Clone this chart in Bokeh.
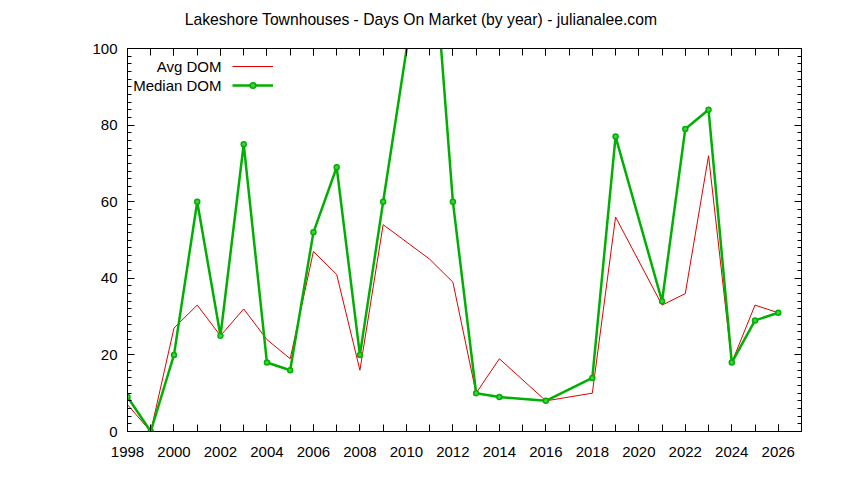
from bokeh.plotting import figure
from bokeh.models import (LinearAxis, FixedTicker, Range1d, Label, Legend, LegendItem)
from bokeh.embed import file_html
from bokeh.resources import INLINE

# ---- data ----
avg_years = [1998, 1999, 2000, 2001, 2002, 2003, 2004, 2005, 2006, 2007, 2008, 2009,
             2011, 2012, 2013, 2014, 2016, 2018, 2019, 2021, 2022, 2023, 2024, 2025, 2026]
avg_dom = [7, 0, 27, 33, 25, 32, 24, 19, 47, 41, 16, 54,
           45, 39, 10, 19, 8, 10, 56, 33, 36, 72, 18, 33, 31]

med_years = [1998, 1999, 2000, 2001, 2002, 2003, 2004, 2005, 2006, 2007, 2008, 2009,
             2011, 2012, 2013, 2014, 2016, 2018, 2019, 2021, 2022, 2023, 2024, 2025, 2026]
med_dom = [9, 0, 20, 60, 25, 75, 18, 16, 52, 69, 20, 60,
           139, 60, 10, 9, 8, 14, 77, 34, 79, 84, 18, 29, 31]

x_major_ticks = [1998, 2000, 2002, 2004, 2006, 2008, 2010, 2012, 2014, 2016,
                 2018, 2020, 2022, 2024, 2026]
x_minor_ticks = [1998, 1999, 2000, 2001, 2002, 2003, 2004, 2005, 2006, 2007, 2008,
                 2009, 2010, 2011, 2012, 2013, 2014, 2015, 2016, 2017, 2018, 2019,
                 2020, 2021, 2022, 2023, 2024, 2025, 2026, 2027]
y_major_ticks = [0, 20, 40, 60, 80, 100]
y_minor_ticks = list(range(0, 101, 2))

title_text = "Lakeshore Townhouses - Days On Market (by year) - julianalee.com"
avg_label = "Avg DOM"
med_label = "Median DOM"

FONT = "Liberation Sans"
FS = "15px"
RED = "#e00000"
GREEN = "#00b000"

W, H = 836, 472
LEFT, RIGHT, TOP, BOTTOM = 127, 35, 48, 41
FH = H - TOP - BOTTOM

p = figure(width=W, height=H, output_backend="svg", toolbar_location=None,
           x_range=Range1d(1998, 2027), y_range=Range1d(0, 100),
           min_border_left=LEFT, min_border_right=RIGHT,
           min_border_top=TOP, min_border_bottom=BOTTOM,
           x_axis_type=None, y_axis_type=None, title=None)
p.outline_line_color = None
p.background_fill_color = "white"
p.border_fill_color = "white"

xt = FixedTicker(ticks=x_major_ticks, minor_ticks=x_minor_ticks)
yt = FixedTicker(ticks=y_major_ticks, minor_ticks=y_minor_ticks)


def style(ax, labels, xaxis):
    ax.axis_line_color = "black"
    ax.axis_line_width = 1
    ax.major_tick_line_color = "black"
    ax.minor_tick_line_color = "black"
    ax.major_tick_out = 0
    ax.minor_tick_out = 0
    ax.major_tick_in = 7
    ax.minor_tick_in = 7 if xaxis else 4
    ax.major_label_text_font = FONT
    ax.major_label_text_font_size = FS
    ax.major_label_text_color = "black"
    ax.major_label_standoff = 15 if xaxis else 10
    if not labels:
        ax.major_label_text_font_size = "0px"
        ax.major_label_text_alpha = 0
        ax.major_label_standoff = 0


xb = LinearAxis(ticker=xt)
style(xb, True, True)
p.add_layout(xb, "below")
xa = LinearAxis(ticker=xt)
style(xa, False, True)
p.add_layout(xa, "above")
yl = LinearAxis(ticker=yt)
style(yl, True, False)
p.add_layout(yl, "left")
yr = LinearAxis(ticker=yt)
style(yr, False, False)
p.add_layout(yr, "right")

p.xgrid.ticker = xt
p.ygrid.ticker = FixedTicker(ticks=y_major_ticks)
for g in (p.xgrid, p.ygrid):
    g.grid_line_color = "#a0a0a0"
    g.grid_line_dash = "1 3"
    g.grid_line_width = 1
p.xgrid.minor_grid_line_color = "#a0a0a0"
p.xgrid.minor_grid_line_dash = "1 3"

r_avg = p.line(avg_years, avg_dom, line_color=RED, line_width=1)
r_med = p.line(med_years, med_dom, line_color=GREEN, line_width=2.5)
r_pts = p.scatter(med_years, med_dom, marker="circle", size=5,
                  line_color=GREEN, line_width=1.5, fill_color="#40d040")

legend = Legend(items=[LegendItem(label=" ", renderers=[r_avg]),
                       LegendItem(label=" ", renderers=[r_med, r_pts])],
                location=(105, FH - 8.5 - 38), padding=0, spacing=0, margin=0,
                glyph_width=41, glyph_height=14, label_height=19,
                label_width=0, label_standoff=0,
                background_fill_alpha=0, border_line_color=None,
                label_text_font_size="1px")
p.add_layout(legend, "center")

for txt, yoff in ((avg_label, 18), (med_label, 37)):
    p.add_layout(Label(x=94, y=FH - yoff, x_units="screen", y_units="screen",
                       text=txt, text_align="right", text_baseline="middle",
                       text_font=FONT, text_font_size=FS, text_color="black"))

title_label = Label(x=293.5, y=29, x_units="screen", y_units="screen",
                    text=title_text, text_align="center", text_baseline="middle",
                    text_font=FONT, text_font_size="15.7px", text_color="black")
p.add_layout(title_label, "above")

open("out.html", "w").write(file_html(p, INLINE))
